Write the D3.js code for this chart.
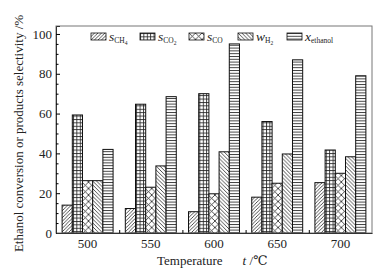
<!DOCTYPE html>
<head>
    <meta charset="utf-8">
    <script src="https://d3js.org/d3.v7.min.js"></script>
    <style>
        body { margin:0; background:#fff; }
        text { font-family:"Liberation Serif", "DejaVu Serif", serif; fill:#222; }
    </style>
</head>
<body>
<div id="chart"></div>
<script>

    // ******************** Data ************************
    var temps = ["500", "550", "600", "650", "700"];
    var seriesKeys = ["sCH4", "sCO2", "sCO", "wH2", "xEthanol"];
    var sCH4     = [14, 12.3, 10.7, 18, 25.3];
    var sCO2     = [59.3, 64.7, 70, 56, 41.7];
    var sCO      = [26.3, 23, 19.7, 25, 30];
    var wH2      = [26.3, 33.7, 40.8, 39.7, 38.3];
    var xEthanol = [42, 68.5, 95, 87, 79];
    var yTicks = [0, 20, 40, 60, 80, 100];

    var values = { sCH4: sCH4, sCO2: sCO2, sCO: sCO, wH2: wH2, xEthanol: xEthanol };

    var W = 387, H = 272;
    var mLeft = 56, mRight = 372, mTop = 26, mBottom = 233;

    var svg = d3.select("#chart").append("svg")
        .attr("width", W)
        .attr("height", H);

    // hatch patterns
    var defs = svg.append("defs");
    function pattern(id, size, draw) {
        var p = defs.append("pattern")
            .attr("id", id)
            .attr("patternUnits", "userSpaceOnUse")
            .attr("width", size)
            .attr("height", size);
        p.append("rect").attr("width", size).attr("height", size).attr("fill", "#fff");
        draw(p, size);
    }
    var ink = "#222";
    pattern("pCH4", 3.5, function (p, s) {
        p.append("path").attr("d", "M0," + s + "L" + s + ",0M-1,1L1,-1M" + (s - 1) + "," + (s + 1) + "L" + (s + 1) + "," + (s - 1))
            .attr("stroke", ink).attr("stroke-width", 0.8);
    });
    pattern("pCO2", 3.4, function (p, s) {
        p.append("path").attr("d", "M0,0.5H" + s + "M0.5,0V" + s)
            .attr("stroke", ink).attr("stroke-width", 0.85);
    });
    pattern("pCO", 6.5, function (p, s) {
        p.append("path").attr("d", "M0,0L" + s + "," + s + "M0," + s + "L" + s + ",0")
            .attr("stroke", ink).attr("stroke-width", 0.8);
    });
    pattern("pH2", 3.8, function (p, s) {
        p.append("path").attr("d", "M0,0L" + s + "," + s + "M-1," + (s - 1) + "L1," + (s + 1) + "M" + (s - 1) + ",-1L" + (s + 1) + ",1")
            .attr("stroke", ink).attr("stroke-width", 0.8);
    });
    pattern("pEth", 2.8, function (p, s) {
        p.append("path").attr("d", "M0,0.5H" + s)
            .attr("stroke", ink).attr("stroke-width", 0.85);
    });
    var fills = { sCH4: "url(#pCH4)", sCO2: "url(#pCO2)", sCO: "url(#pCO)", wH2: "url(#pH2)", xEthanol: "url(#pEth)" };

    // scales
    var x0 = d3.scaleBand().domain(temps).range([mLeft, mRight]);
    var x1 = d3.scaleBand().domain(seriesKeys).range([0, x0.bandwidth()]).paddingOuter(0.6);
    var y = d3.scaleLinear().domain([0, 104]).range([mBottom, mTop]);

    // bars
    var groups = svg.append("g").selectAll("g")
        .data(temps)
        .join("g")
        .attr("transform", function (d) { return "translate(" + x0(d) + ",0)"; });

    groups.selectAll("rect")
        .data(function (d, i) { return seriesKeys.map(function (k) { return { key: k, v: values[k][i] }; }); })
        .join("rect")
        .attr("x", function (d) { return x1(d.key); })
        .attr("y", function (d) { return y(d.v); })
        .attr("width", x1.bandwidth())
        .attr("height", function (d) { return mBottom - y(d.v); })
        .attr("fill", function (d) { return fills[d.key]; })
        .attr("stroke", "#111")
        .attr("stroke-width", 1);

    // frame
    svg.append("rect")
        .attr("x", mLeft).attr("y", mTop)
        .attr("width", mRight - mLeft).attr("height", mBottom - mTop)
        .attr("fill", "none").attr("stroke", "#777").attr("stroke-width", 1);

    // y axis
    var yAxis = svg.append("g")
        .attr("transform", "translate(" + mLeft + ",0)")
        .call(d3.axisLeft(y).tickValues(yTicks).tickSize(-4).tickPadding(4));
    yAxis.select(".domain").attr("stroke", "#333");
    yAxis.selectAll("text").style("font-size", "13px");

    svg.append("g")
        .attr("transform", "translate(" + mLeft + ",0)")
        .call(d3.axisLeft(y).tickValues(d3.range(5, 100, 5).filter(function (v) { return v % 20 !== 0; }))
            .tickSize(-2.5).tickFormat(""))
        .select(".domain").remove();

    // x axis
    var xAxis = svg.append("g")
        .attr("transform", "translate(0," + mBottom + ")")
        .call(d3.axisBottom(x0).tickSize(0).tickPadding(6));
    xAxis.select(".domain").attr("stroke", "#333");
    xAxis.selectAll("text").style("font-size", "13px");

    var xb = d3.scaleLinear().domain([0, temps.length]).range([mLeft, mRight]);
    svg.append("g")
        .attr("transform", "translate(0," + mBottom + ")")
        .call(d3.axisBottom(xb).tickValues([1, 2, 3, 4]).tickSize(-3).tickFormat(""))
        .select(".domain").remove();

    // axis titles
    var xt = svg.append("text")
        .attr("x", 157).attr("y", 265)
        .style("font-size", "13px");
    xt.append("tspan").text("Temperature");
    xt.append("tspan").attr("dx", 20).style("font-style", "italic").text("t");
    xt.append("tspan").text(" /\u2103");

    svg.append("text")
        .attr("transform", "translate(23," + ((mTop + mBottom) / 2 + 4) + ") rotate(-90)")
        .attr("text-anchor", "middle")
        .style("font-size", "13px")
        .text("Ethanol conversion or products selectivity /%");

    // legend
    var legendItems = [
        { key: "sCH4", sym: "s", sub: "CH", sub2: "4" },
        { key: "sCO2", sym: "s", sub: "CO", sub2: "2" },
        { key: "sCO", sym: "s", sub: "CO", sub2: "" },
        { key: "wH2", sym: "w", sub: "H", sub2: "2" },
        { key: "xEthanol", sym: "x", sub: "ethanol", sub2: "" }
    ];
    var lg = svg.append("g").selectAll("g")
        .data(legendItems)
        .join("g")
        .attr("transform", function (d, i) { return "translate(" + (91 + i * 49) + ",33)"; });
    lg.append("rect")
        .attr("width", 15).attr("height", 7)
        .attr("fill", function (d) { return fills[d.key]; })
        .attr("stroke", "#111").attr("stroke-width", 0.8);
    var lt = lg.append("text").attr("x", 18).attr("y", 7.5);
    lt.append("tspan").style("font-style", "italic").style("font-size", "13.5px").text(function (d) { return d.sym; });
    lt.append("tspan").attr("dy", 2.5).style("font-size", "7.5px").text(function (d) { return d.sub; });
    lt.append("tspan").attr("dy", 1.5).style("font-size", "5.5px").text(function (d) { return d.sub2; });

</script>
</body>
